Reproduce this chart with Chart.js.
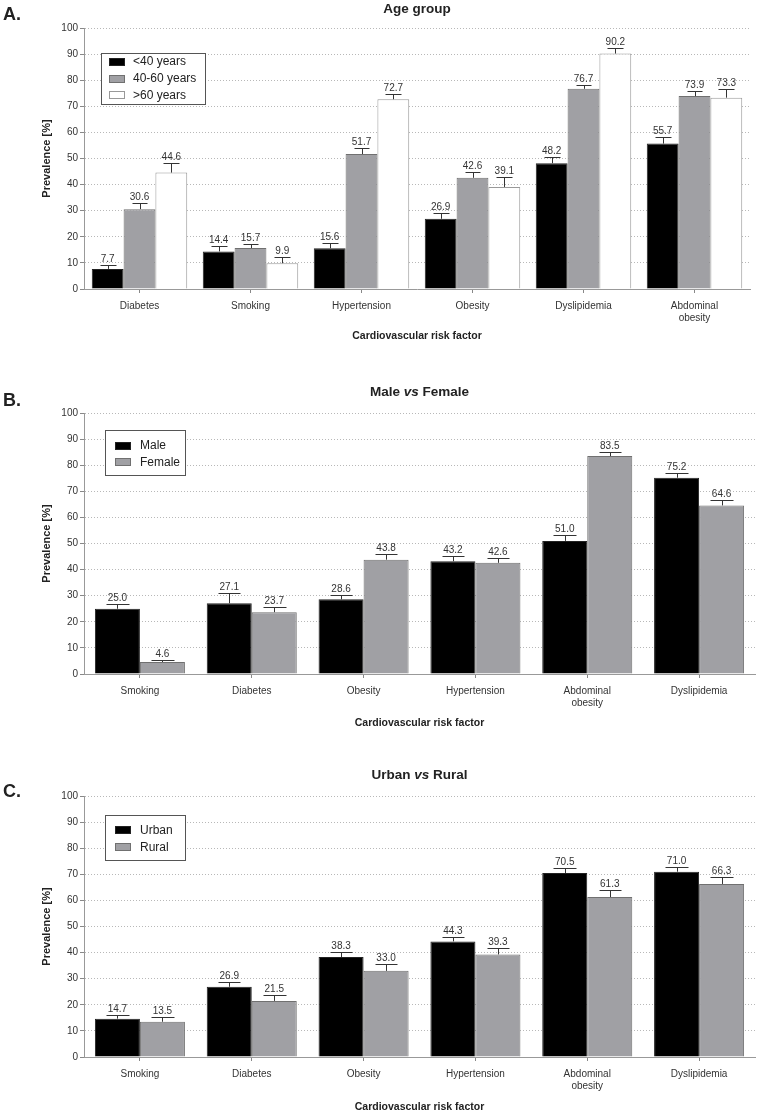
<!DOCTYPE html>
<html>
<head>
<meta charset="utf-8">
<script src="https://cdn.jsdelivr.net/npm/chart.js@4.4.1/dist/chart.umd.min.js"></script>
<style>
  html, body { margin: 0; padding: 0; background: #fff; }
  body { width: 759px; height: 1114px; position: relative; overflow: hidden; }
  .wrap { position: absolute; left: 0; width: 759px; }
  canvas { display: block; }
</style>
</head>
<body>
<div class="wrap" style="top:0px;height:346px"><canvas id="cA" width="759" height="346"></canvas></div>
<div class="wrap" style="top:350px;height:380px"><canvas id="cB" width="759" height="380"></canvas></div>
<div class="wrap" style="top:735px;height:379px"><canvas id="cC" width="759" height="379"></canvas></div>
<script>
// ---------- DATA ----------
const yTicks = [0, 10, 20, 30, 40, 50, 60, 70, 80, 90, 100];

const ageCategories = ['Diabetes', 'Smoking', 'Hypertension', 'Obesity', 'Dyslipidemia', ['Abdominal', 'obesity']];
const ageUnder40 = [7.7, 14.4, 15.6, 26.9, 48.2, 55.7];
const ageUnder40Err = [1.5, 2.0, 2.1, 2.4, 2.5, 2.6];
const age40to60 = [30.6, 15.7, 51.7, 42.6, 76.7, 73.9];
const age40to60Err = [2.2, 1.7, 2.2, 2.1, 1.6, 1.9];
const ageOver60 = [44.6, 9.9, 72.7, 39.1, 90.2, 73.3];
const ageOver60Err = [3.8, 2.4, 2.0, 3.7, 2.0, 3.3];

const sexCategories = ['Smoking', 'Diabetes', 'Obesity', 'Hypertension', ['Abdominal', 'obesity'], 'Dyslipidemia'];
const maleValues = [25.0, 27.1, 28.6, 43.2, 51.0, 75.2];
const maleErr = [1.7, 3.9, 1.8, 2.1, 2.2, 1.8];
const femaleValues = [4.6, 23.7, 43.8, 42.6, 83.5, 64.6];
const femaleErr = [0.8, 1.9, 2.1, 2.0, 1.5, 1.9];

const areaCategories = ['Smoking', 'Diabetes', 'Obesity', 'Hypertension', ['Abdominal', 'obesity'], 'Dyslipidemia'];
const urbanValues = [14.7, 26.9, 38.3, 44.3, 70.5, 71.0];
const urbanErr = [1.3, 1.8, 1.9, 1.7, 2.0, 1.8];
const ruralValues = [13.5, 21.5, 33.0, 39.3, 61.3, 66.3];
const ruralErr = [1.8, 2.2, 2.6, 2.6, 2.5, 2.6];

// ---------- STYLE ----------
const FONT = "'Liberation Sans', Arial, Helvetica, sans-serif";
const BLACK = { bg: '#000000', border: '#222222' };
const GRAY = { bg: '#a0a0a4', border: '#707070' };
const WHITE = { bg: '#ffffff', border: '#999999' };

// Error bars + value labels
const errorBarPlugin = {
  id: 'errorBars',
  afterDatasetsDraw(chart) {
    const ctx = chart.ctx;
    const yScale = chart.scales.y;
    ctx.save();
    chart.data.datasets.forEach((ds, i) => {
      const meta = chart.getDatasetMeta(i);
      if (meta.hidden) return;
      meta.data.forEach((bar, j) => {
        const v = ds.data[j];
        const e = ds.errors ? ds.errors[j] : 0;
        const yTop = yScale.getPixelForValue(v);
        const yCap = Math.round(yScale.getPixelForValue(v + e)) + 0.5;
        const x = Math.round(bar.x) + 0.5;
        const half = bar.width / 4;
        ctx.strokeStyle = '#333';
        ctx.lineWidth = 1;
        ctx.beginPath();
        ctx.moveTo(x, yTop);
        ctx.lineTo(x, yCap);
        ctx.moveTo(Math.round(bar.x - half) + 0.5, yCap);
        ctx.lineTo(Math.round(bar.x + half) + 0.5, yCap);
        ctx.stroke();
        ctx.fillStyle = '#333';
        ctx.font = '10px ' + FONT;
        ctx.textAlign = 'center';
        ctx.textBaseline = 'alphabetic';
        ctx.fillText(v.toFixed(1), bar.x, yCap - 4);
      });
    });
    ctx.restore();
  }
};

// Panel letter, title and boxed legend
const panelPlugin = {
  id: 'panel',
  afterDraw(chart, args, o) {
    const ctx = chart.ctx;
    const ca = chart.chartArea;
    ctx.save();
    // panel letter
    ctx.fillStyle = '#222';
    ctx.font = 'bold 18px ' + FONT;
    ctx.textAlign = 'left';
    ctx.textBaseline = 'middle';
    ctx.fillText(o.letter, 3, o.letterY);
    // title (mixed styles)
    const segs = o.title;
    let total = 0;
    segs.forEach(s => { ctx.font = (s.italic ? 'italic ' : '') + 'bold ' + o.titleSize + 'px ' + FONT; s.w = ctx.measureText(s.t).width; total += s.w; });
    let x = (ca.left + ca.right) / 2 - total / 2;
    segs.forEach(s => {
      ctx.font = (s.italic ? 'italic ' : '') + 'bold ' + o.titleSize + 'px ' + FONT;
      ctx.fillText(s.t, x, o.titleY);
      x += s.w;
    });
    // legend
    const L = o.legend;
    ctx.fillStyle = '#fff';
    ctx.fillRect(L.x, L.y, L.w, L.h);
    ctx.strokeStyle = '#555';
    ctx.lineWidth = 1;
    ctx.strokeRect(L.x + 0.5, L.y + 0.5, L.w, L.h);
    chart.data.datasets.forEach((ds, i) => {
      const cy = L.rowY[i];
      ctx.fillStyle = ds.backgroundColor;
      ctx.fillRect(L.swX, Math.round(cy - 4), 16, 8);
      ctx.strokeStyle = ds.borderColor;
      ctx.strokeRect(L.swX + 0.5, Math.round(cy - 4) + 0.5, 15, 7);
      ctx.fillStyle = '#222';
      ctx.font = L.fontSize + 'px ' + FONT;
      ctx.textBaseline = 'middle';
      ctx.fillText(ds.label, L.textX, cy + 0.5);
    });
    ctx.restore();
  }
};

function makeChart(id, labels, datasets, cfg) {
  return new Chart(document.getElementById(id), {
    type: 'bar',
    data: {
      labels: labels,
      datasets: datasets.map(d => ({
        label: d.label,
        data: d.data,
        errors: d.errors,
        backgroundColor: d.style.bg,
        borderColor: d.style.border,
        borderWidth: 1,
        categoryPercentage: cfg.catPct,
        barPercentage: 1.0
      }))
    },
    options: {
      responsive: false,
      animation: false,
      devicePixelRatio: 1,
      layout: { padding: { top: cfg.padTop, right: cfg.padRight, left: 0, bottom: 0 } },
      plugins: {
        legend: { display: false },
        title: { display: false },
        tooltip: { enabled: false },
        panel: cfg.panel
      },
      scales: {
        x: {
          offset: true,
          grid: { display: true, drawOnChartArea: false, offset: false, drawTicks: true, tickLength: 4, tickColor: '#888', tickWidth: 1 },
          border: { display: true, color: '#999', width: 1 },
          ticks: { color: '#333', font: { family: FONT, size: 10 }, padding: 7, maxRotation: 0, autoSkip: false },
          title: { display: true, text: 'Cardiovascular risk factor', color: '#222', font: { family: FONT, size: 10.5, weight: 'bold' }, padding: { top: 0, bottom: cfg.xTitlePad } },
          afterFit: (s) => { s.height = cfg.xHeight; }
        },
        y: {
          min: 0,
          max: 100,
          afterBuildTicks: (s) => { s.ticks = yTicks.map(v => ({ value: v })); },
          grid: { color: '#b8b8b8', lineWidth: 1, drawTicks: true, tickLength: 4, tickColor: '#888', tickBorderDash: [], tickWidth: 1 },
          border: { display: true, color: '#999', width: 1, dash: [1, 2] },
          ticks: { color: '#333', font: { family: FONT, size: 10 }, padding: 2 },
          title: { display: true, text: 'Prevalence [%]', color: '#222', font: { family: FONT, size: 11, weight: 'bold' }, padding: { top: 40, bottom: 0 } },
          afterFit: (s) => { s.width = 84; }
        }
      }
    },
    plugins: [errorBarPlugin, panelPlugin]
  });
}

makeChart('cA', ageCategories, [
  { label: '<40 years', data: ageUnder40, errors: ageUnder40Err, style: BLACK },
  { label: '40-60 years', data: age40to60, errors: age40to60Err, style: GRAY },
  { label: '>60 years', data: ageOver60, errors: ageOver60Err, style: WHITE }
], {
  catPct: 0.86, padTop: 28, padRight: 9, xHeight: 57, xTitlePad: 4,
  panel: {
    letter: 'A.', letterY: 15, titleY: 9, titleSize: 13.5,
    title: [{ t: 'Age group' }],
    legend: { x: 101, y: 53, w: 104, h: 51, swX: 109, textX: 133, rowY: [61.5, 78.5, 95], fontSize: 12 }
  }
});

makeChart('cB', sexCategories, [
  { label: 'Male', data: maleValues, errors: maleErr, style: BLACK },
  { label: 'Female', data: femaleValues, errors: femaleErr, style: GRAY }
], {
  catPct: 0.805, padTop: 63, padRight: 4, xHeight: 56, xTitlePad: 1,
  panel: {
    letter: 'B.', letterY: 51, titleY: 42, titleSize: 13.5,
    title: [{ t: 'Male ' }, { t: 'vs', italic: true }, { t: ' Female' }],
    legend: { x: 105, y: 80, w: 80, h: 45, swX: 115, textX: 140, rowY: [95.5, 112], fontSize: 12 }
  }
});

makeChart('cC', areaCategories, [
  { label: 'Urban', data: urbanValues, errors: urbanErr, style: BLACK },
  { label: 'Rural', data: ruralValues, errors: ruralErr, style: GRAY }
], {
  catPct: 0.805, padTop: 61, padRight: 4, xHeight: 57, xTitlePad: 1,
  panel: {
    letter: 'C.', letterY: 57.5, titleY: 40, titleSize: 13.5,
    title: [{ t: 'Urban ' }, { t: 'vs', italic: true }, { t: ' Rural' }],
    legend: { x: 105, y: 80, w: 80, h: 45, swX: 115, textX: 140, rowY: [95, 112], fontSize: 12 }
  }
});
</script>
</body>
</html>
